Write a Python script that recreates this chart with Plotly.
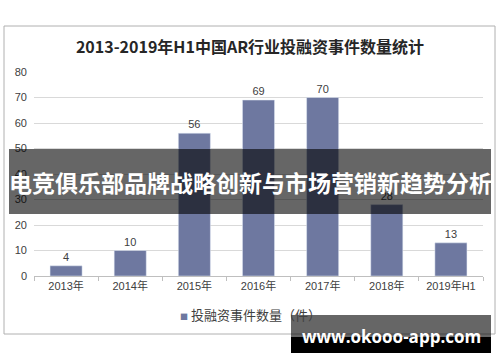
import plotly.graph_objects as go

categories = ["2013年", "2014年", "2015年", "2016年", "2017年", "2018年", "2019年H1"]
values = [4, 10, 56, 69, 70, 28, 13]
y_ticks = [0, 10, 20, 30, 40, 50, 60, 70, 80]

title_text = "2013-2019年H1中国AR行业投融资事件数量统计"
legend_text = "投融资事件数量（件）"
banner_text = "电竞俱乐部品牌战略创新与市场营销新趋势分析"
watermark_text = "www.okooo-app.com"

W, H = 500, 362
L, R, T, B = 34, 17, 72, 86
pw, ph = W - L - R, H - T - B


def px(x):
    return (x - L) / pw


def py(y):
    return (H - B - y) / ph


BAR = "#6e78a0"
FONT = "Arial, 'Liberation Sans', 'Noto Sans CJK SC', sans-serif"

fig = go.Figure()
fig.add_trace(go.Bar(
    x=categories, y=values, marker_color=BAR, width=0.5,
    text=values, textposition="outside", cliponaxis=False,
    textfont=dict(size=11, color="#404040", family=FONT),
    showlegend=False,
))

fig.update_layout(
    width=W, height=H,
    margin=dict(l=L, r=R, t=T, b=B),
    paper_bgcolor="white", plot_bgcolor="white",
    title=dict(text=f"<b>{title_text}</b>", x=0.5, xanchor="center",
               y=1 - 47 / H, yanchor="middle",
               font=dict(size=16, color="#262626", family="'Noto Sans CJK SC', serif")),
    xaxis=dict(showgrid=False, showline=True, linecolor="#bfbfbf", linewidth=1,
               ticks="outside", tickson="boundaries", ticklen=4, tickcolor="#bfbfbf",
               tickfont=dict(size=11, color="#404040", family=FONT)),
    yaxis=dict(range=[0, 80], tickvals=y_ticks, showgrid=True, gridcolor="#d9d9d9",
               zeroline=False, showline=False, ticklabelstandoff=6,
               tickfont=dict(size=11, color="#404040", family=FONT)),
    bargap=0.5,
)

# outer chart border
fig.add_shape(type="rect", xref="paper", yref="paper",
              x0=px(4), x1=px(495), y0=py(334), y1=py(26),
              line=dict(color="#b0b0b0", width=1), fillcolor="rgba(0,0,0,0)", layer="below")

# legend (as annotation)
fig.add_annotation(xref="paper", yref="paper", x=px(250), y=py(314),
                   text=f"<span style='color:{BAR};font-size:8px'>■</span> {legend_text}",
                   showarrow=False, xanchor="center", yanchor="middle",
                   font=dict(size=13, color="#404040", family="'Noto Sans CJK SC', sans-serif"))

# banner overlay
fig.add_shape(type="rect", xref="paper", yref="paper",
              x0=px(9), x1=px(491), y0=py(214), y1=py(149),
              line=dict(width=0), fillcolor="rgba(0,0,0,0.6)", layer="above")
fig.add_annotation(xref="paper", yref="paper", x=px(250), y=py(182),
                   text=f"<b>{banner_text}</b>", showarrow=False,
                   xanchor="center", yanchor="middle",
                   font=dict(size=23, color="white", family="'Noto Sans CJK SC', sans-serif"))

# watermark
fig.add_shape(type="rect", xref="paper", yref="paper",
              x0=px(291), x1=px(491), y0=py(337), y1=py(315),
              line=dict(width=0), fillcolor="rgba(0,0,0,0.6)", layer="above")
fig.add_shape(type="rect", xref="paper", yref="paper",
              x0=px(291), x1=px(491), y0=py(353), y1=py(337),
              line=dict(width=0), fillcolor="black", layer="above")
fig.add_annotation(xref="paper", yref="paper", x=px(391), y=py(336),
                   text=f"<b>{watermark_text}</b>", showarrow=False,
                   xanchor="center", yanchor="middle",
                   font=dict(size=17, color="white", family="'Open Sans', sans-serif"))

fig.write_html("out.html")
